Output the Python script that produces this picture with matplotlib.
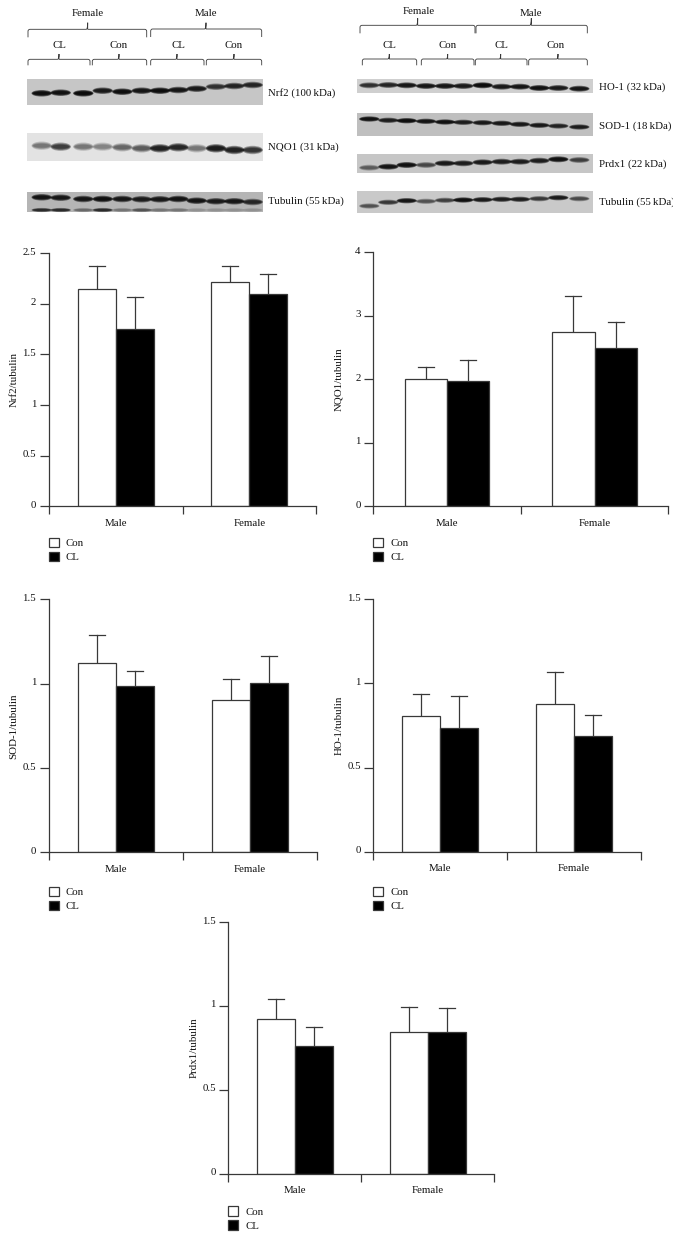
import matplotlib
matplotlib.use('Agg')
import matplotlib.pyplot as plt
from matplotlib.patches import Ellipse, Rectangle
from matplotlib.path import Path
from matplotlib.patches import PathPatch
from matplotlib.transforms import ScaledTranslation, Bbox

plt.rcParams['font.family'] = ['Liberation Serif', 'DejaVu Serif']

W, H = 680, 1237
LINE = '#383838'
FS = 7.8

groups = ['Male', 'Female']
legend_labels = ['Con', 'CL']

# bar heights and top of the error bar, Male then Female
nrf2_con = [2.15, 2.22]
nrf2_con_top = [2.37, 2.37]
nrf2_cl = [1.75, 2.10]
nrf2_cl_top = [2.07, 2.30]

nqo1_con = [2.00, 2.75]
nqo1_con_top = [2.19, 3.31]
nqo1_cl = [1.98, 2.49]
nqo1_cl_top = [2.30, 2.91]

sod1_con = [1.12, 0.905]
sod1_con_top = [1.29, 1.03]
sod1_cl = [0.985, 1.005]
sod1_cl_top = [1.075, 1.165]

ho1_con = [0.805, 0.88]
ho1_con_top = [0.94, 1.07]
ho1_cl = [0.735, 0.685]
ho1_cl_top = [0.925, 0.815]

prdx1_con = [0.92, 0.845]
prdx1_con_top = [1.04, 0.995]
prdx1_cl = [0.76, 0.845]
prdx1_cl_top = [0.875, 0.985]

# blot lanes: x and y of each band in pixels, and how dark it is (0-1)
left_lanes = [41.7, 60.7, 83.3, 102.7, 122.3, 141.7, 160, 178.3, 196.7, 216, 234.3, 252.7]
nrf2_y = [93.3, 92.7, 93.3, 90.7, 91.7, 90.7, 90.7, 90, 88.7, 86.7, 86, 85]
nrf2_dark = [.95, .9, 1, .8, .95, .85, .95, .85, .8, .6, .7, .7]
nqo1_y = [145.7, 146.7, 146.7, 146.7, 147.3, 148.3, 148.3, 147.3, 148.3, 148.3, 150, 150]
nqo1_dark = [.3, .55, .3, .25, .35, .4, .75, .7, .3, .8, .75, .6]
tub_l_y = [197.3, 197.7, 199, 199, 199, 199.3, 199.3, 199, 200.7, 201.3, 201.3, 202]
tub_l_dark = [.85, .8, .8, .9, .8, .75, .8, .85, .85, .75, .8, .65]
tub_l2_y = [210] * 12
tub_l2_dark = [.6, .6, .25, .6, .2, .35, .2, .2, .1, .1, .1, .1]

right_lanes = [369.3, 388.3, 406.7, 426, 445, 463.3, 482.7, 501.7, 520, 539.3, 558.3, 579.3]
ho1_y = [85.3, 85, 85.3, 86, 86, 86, 85.3, 86.7, 86.7, 88, 88, 88.7]
ho1_dark = [.6, .7, .85, .85, .85, .8, 1, .8, .85, .9, .8, .85]
sod1_y = [119, 120.3, 120.7, 121.3, 122, 122.3, 122.7, 123.3, 124.3, 125.3, 126, 127]
sod1_dark = [.9, .75, .95, .85, .9, .75, .8, .8, .8, .8, .7, .75]
prdx1_y = [167.7, 166.7, 165, 165, 163.3, 163.3, 162.3, 161.7, 161.7, 160.7, 159.3, 160]
prdx1_dark = [.35, .85, .9, .45, .8, .75, .8, .75, .75, .75, .9, .5]
tub_r_y = [206, 202.3, 200.7, 201.3, 200.3, 200, 199.7, 199.3, 199.3, 198.7, 197.7, 198.7]
tub_r_dark = [.4, .55, .85, .4, .5, .9, .8, .75, .75, .55, .8, .45]


def draw_blot(ov, box, bg, lanes, ys, darks, band_w=19.5, band_h=5.5):
    x0, x1, y0, y1 = box
    ov.add_patch(Rectangle((x0, y0), x1 - x0, y1 - y0, fc=bg, ec='none'))
    add_bands(ov, lanes, ys, darks, band_w, band_h)


def add_bands(ov, lanes, ys, darks, band_w=19.5, band_h=5.5):
    for x, y, d in zip(lanes, ys, darks):
        for fw, fh in ((1.05, 1.2), (1.0, 0.95), (0.95, 0.75), (0.88, 0.55)):
            ov.add_patch(Ellipse((x, y), band_w * fw, band_h * fh,
                                 fc='black', ec='none', alpha=d * 0.5))


def bracket(ov, x0, x1, xpeak, y, bottom, peak):
    # curly brace above a group of lanes
    r = 2.0
    verts = [(x0, bottom), (x0, y + r), (x0, y), (x0 + r, y), (xpeak - 1.5, y),
             (xpeak, y), (xpeak, peak), (xpeak, y), (xpeak + 1.5, y),
             (x1 - r, y), (x1, y), (x1, y + r), (x1, bottom)]
    codes = [Path.MOVETO, Path.LINETO, Path.CURVE3, Path.CURVE3, Path.LINETO,
             Path.CURVE3, Path.CURVE3, Path.LINETO, Path.LINETO,
             Path.LINETO, Path.CURVE3, Path.CURVE3, Path.LINETO]
    ov.add_patch(PathPatch(Path(verts, codes), fc='none', ec=LINE, lw=0.6))


def bar_chart(fig, box, ymax, yticks, ylabel, con, con_top, cl, cl_top, bar_w, legend_off):
    left, right, top, base = box
    ax = fig.add_axes([left / W, 1 - base / H, (right - left) / W, (base - top) / H])
    ax.patch.set_alpha(0)
    ax.set_xlim(0, 2)
    ax.set_ylim(0, ymax)
    w = bar_w / ((right - left) / 2)
    for i in range(2):
        xc = i + 0.5
        ax.plot([xc - w / 2, xc - w / 2], [con[i], con_top[i]], color=LINE, lw=0.9, zorder=1)
        ax.plot([xc + w / 2, xc + w / 2], [cl[i], cl_top[i]], color=LINE, lw=0.9, zorder=1)
        cap = 8.0 / ((right - left) / 2)
        ax.plot([xc - w / 2 - cap, xc - w / 2 + cap], [con_top[i]] * 2, color=LINE, lw=0.9)
        ax.plot([xc + w / 2 - cap, xc + w / 2 + cap], [cl_top[i]] * 2, color=LINE, lw=0.9)
    xs = [0.5, 1.5]
    b1 = ax.bar([x - w / 2 for x in xs], con, w, color='white', edgecolor=LINE, linewidth=0.9, zorder=2)
    b2 = ax.bar([x + w / 2 for x in xs], cl, w, color='black', edgecolor=LINE, linewidth=0.9, zorder=2)

    for s in ('top', 'right'):
        ax.spines[s].set_visible(False)
    for s in ('left', 'bottom'):
        ax.spines[s].set_linewidth(0.9)
        ax.spines[s].set_color(LINE)

    ax.set_xticks([0, 1, 2])
    ax.set_xticklabels(['', '', ''])
    ax.set_xticks(xs, minor=True)
    ax.set_xticklabels(groups, minor=True, fontsize=FS, color='#111111')
    ax.tick_params(axis='x', which='major', length=5.6, width=0.9, color=LINE)
    ax.tick_params(axis='x', which='minor', length=0, pad=9.0)

    ax.set_yticks(yticks)
    ax.set_yticklabels(['%g' % t for t in yticks], fontsize=FS, color='#111111')
    ax.tick_params(axis='y', length=6.2, width=0.9, color=LINE, pad=2.8)
    shift = ScaledTranslation(0, 1.4 / 72, fig.dpi_scale_trans)
    for t in ax.get_yticklabels():
        t.set_transform(t.get_transform() + shift)

    ax.set_ylabel(ylabel, fontsize=FS, color='#111111')
    ax.yaxis.set_label_coords(-30.0 / (right - left), 0.5)

    ax.legend([b1, b2], legend_labels, loc='upper left',
              bbox_to_anchor=(0, -legend_off / (base - top)), frameon=False,
              fontsize=FS, borderpad=0, borderaxespad=0, handlelength=0.93,
              handleheight=0.93, handletextpad=0.65, labelspacing=0.35,
              labelcolor='#111111')
    return ax


fig = plt.figure(figsize=(W / 100, H / 100), dpi=100)
ov = fig.add_axes([0, 0, 1, 1])
ov.set_xlim(0, W)
ov.set_ylim(H, 0)
ov.axis('off')

# left blots
draw_blot(ov, (26.7, 263.3, 79, 105.3), '#c6c6c6', left_lanes, nrf2_y, nrf2_dark)
draw_blot(ov, (26.7, 263.3, 133.3, 160.7), '#e3e3e3', left_lanes, nqo1_y, nqo1_dark, band_h=7)
draw_blot(ov, (26.7, 263.3, 192, 212), '#b5b5b5', left_lanes, tub_l_y, tub_l_dark)
add_bands(ov, left_lanes, tub_l2_y, tub_l2_dark, band_h=3.5)

# right blots
draw_blot(ov, (357.3, 593.3, 79.3, 93.3), '#cfcfcf', right_lanes, ho1_y, ho1_dark, band_h=5)
draw_blot(ov, (357.3, 593.3, 113.3, 136), '#bfbfbf', right_lanes, sod1_y, sod1_dark, band_h=4.5)
draw_blot(ov, (357.3, 593.3, 154, 172.7), '#c6c6c6', right_lanes, prdx1_y, prdx1_dark, band_h=5)
draw_blot(ov, (357.3, 593.3, 190.7, 213.3), '#c9c9c9', right_lanes, tub_r_y, tub_r_dark, band_h=4.5)

# left brackets
bracket(ov, 28, 146.7, 87.7, 29.3, 37.3, 22.7)
bracket(ov, 150.7, 261.7, 206, 29, 37, 22.7)
bracket(ov, 28, 90, 59, 59.3, 65.3, 54)
bracket(ov, 92.3, 146.7, 119, 59.3, 65.3, 54)
bracket(ov, 150.7, 204, 177, 59.3, 65.3, 54)
bracket(ov, 206.3, 261.7, 234, 59.3, 65.3, 54)

# right brackets
bracket(ov, 360, 475, 417.7, 25.3, 33.3, 18.3)
bracket(ov, 476, 587.3, 531.3, 25.3, 33.3, 18.3)
bracket(ov, 362.3, 416.7, 389.3, 59, 65.3, 54)
bracket(ov, 421.3, 474, 447.7, 59, 65.3, 54)
bracket(ov, 475.3, 527, 500.7, 59, 65.3, 54)
bracket(ov, 528.7, 587.3, 558, 59, 65.3, 54)

head_labels = [('Female', 87.7, 13), ('Male', 206, 13), ('CL', 59, 46), ('Con', 119, 46),
               ('CL', 178, 46), ('Con', 234, 46), ('Female', 418.3, 11), ('Male', 531.3, 13),
               ('CL', 389.3, 46), ('Con', 447.7, 46), ('CL', 501.3, 46), ('Con', 556, 46)]
for s, x, y in head_labels:
    ov.text(x, y, s, ha='center', va='center', fontsize=FS, color='#111111')

blot_labels = [('Nrf2 (100\u2009kDa)', 268.3, 93.3), ('NQO1 (31\u2009kDa)', 268.3, 147.3),
               ('Tubulin (55\u2009kDa)', 268.3, 201.3), ('HO-1 (32\u2009kDa)', 598.7, 86.7),
               ('SOD-1 (18\u2009kDa)', 598.7, 125.7), ('Prdx1 (22\u2009kDa)', 598.7, 164),
               ('Tubulin (55\u2009kDa)', 598.7, 202)]
for s, x, y in blot_labels:
    t = ov.text(x, y, s, ha='left', va='center', fontsize=FS, color='#111111')
    t.set_clip_on(True)
    t.set_clip_box(Bbox([[0, 0], [672.5, H]]))

bar_chart(fig, (48.7, 316.3, 253.3, 506.3), 2.5, [0, 0.5, 1, 1.5, 2, 2.5], 'Nrf2/tubulin',
          nrf2_con, nrf2_con_top, nrf2_cl, nrf2_cl_top, 38, 31.4)
bar_chart(fig, (373.3, 668.3, 252.3, 506.3), 4, [0, 1, 2, 3, 4], 'NQO1/tubulin',
          nqo1_con, nqo1_con_top, nqo1_cl, nqo1_cl_top, 42.4, 31.4)
bar_chart(fig, (48.7, 316.7, 599.3, 852.3), 1.5, [0, 0.5, 1, 1.5], 'SOD-1/tubulin',
          sod1_con, sod1_con_top, sod1_cl, sod1_cl_top, 38, 34.4)
bar_chart(fig, (373.3, 640.7, 599.3, 851.7), 1.5, [0, 0.5, 1, 1.5], 'HO-1/tubulin',
          ho1_con, ho1_con_top, ho1_cl, ho1_cl_top, 38.2, 35)
bar_chart(fig, (228.3, 494.3, 922, 1173.7), 1.5, [0, 0.5, 1, 1.5], 'Prdx1/tubulin',
          prdx1_con, prdx1_con_top, prdx1_cl, prdx1_cl_top, 38, 32.6)

fig.savefig('out.png', dpi=100)
